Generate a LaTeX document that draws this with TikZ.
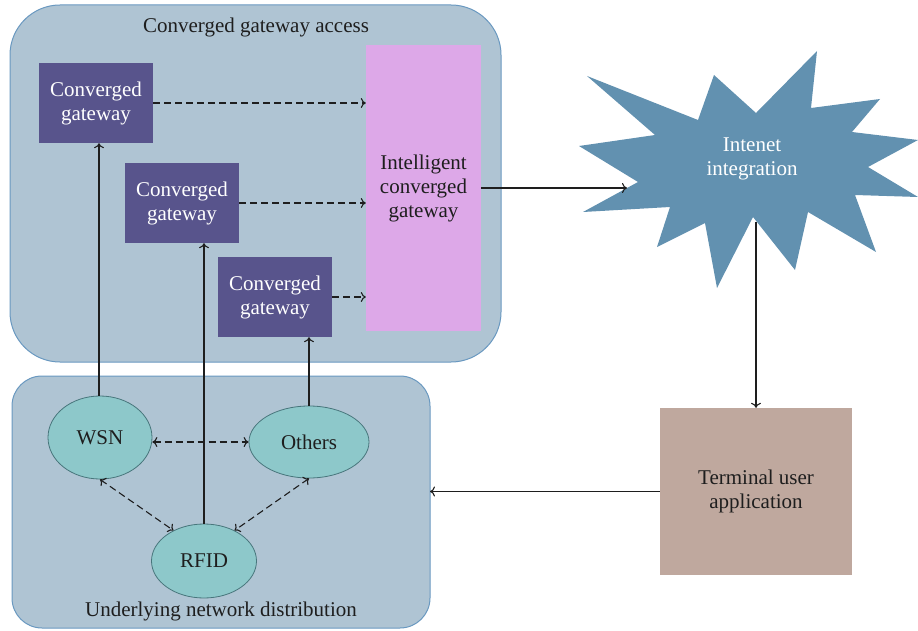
\documentclass[tikz,border=0pt]{standalone}
\usepackage{fontspec}
\setmainfont{Liberation Serif}
\usetikzlibrary{shapes.geometric,arrows.meta}
\definecolor{panelfill}{RGB}{175,196,211}
\definecolor{paneldraw}{RGB}{105,152,192}
\definecolor{gwfill}{RGB}{88,84,140}
\definecolor{intelfill}{RGB}{221,168,232}
\definecolor{starfill}{RGB}{98,145,176}
\definecolor{netfill}{RGB}{141,200,202}
\definecolor{netdraw}{RGB}{72,118,124}
\definecolor{termfill}{RGB}{191,168,158}
\definecolor{inkdark}{RGB}{30,30,30}
\tikzset{
  panel/.style={draw=paneldraw, fill=panelfill, line width=1pt},
  gwbox/.style={fill=gwfill, text=white, minimum width=114pt, minimum height=80pt,
    inner sep=0pt, align=center, font=\fontsize{21}{24}\selectfont},
  netnode/.style={ellipse, draw=netdraw, fill=netfill, line width=0.8pt, inner sep=0pt,
    text=inkdark, font=\fontsize{21}{24}\selectfont},
  lbl/.style={text=inkdark, align=center, font=\fontsize{21}{24}\selectfont},
  flow/.style={-{To[length=5pt,width=10pt]}, line width=1.1pt, draw=inkdark},
  dflow/.style={flow, dash pattern=on 7pt off 4pt},
  ddflow/.style={{To[length=5pt,width=10pt]}-{To[length=5pt,width=10pt]}, line width=1.1pt,
    draw=inkdark, dash pattern=on 7pt off 4pt},
}
\begin{document}
\begin{tikzpicture}[x=1pt,y=-1pt]
\useasboundingbox (0,0) rectangle (918,631);

% panels
\draw[panel, rounded corners=50pt] (10,5) rectangle (501,362);
\draw[panel, rounded corners=30pt] (12,376) rectangle (430,628);
\node[lbl] (toptitle) at (256,27) {Converged gateway access};
\node[lbl] (bottitle) at (221,611) {Underlying network distribution};

% gateways
\node[gwbox] (g1) at (96,103) {Converged\\gateway};
\node[gwbox] (g2) at (182,203) {Converged\\gateway};
\node[gwbox] (g3) at (275,297) {Converged\\gateway};
\node[lbl, fill=intelfill, minimum width=115pt, minimum height=286pt, inner sep=0pt]
  (intel) at (423.5,188) {Intelligent\\converged\\gateway};

% star
\fill[starfill] (587,76) -- (698,120) -- (714,75) -- (756,113) -- (817,51) -- (811,108)
  -- (880,99) -- (852,132) -- (918,140) -- (868,167) -- (918,197) -- (855,195)
  -- (876,252) -- (808,212) -- (795,270) -- (753,217) -- (717,288) -- (705,223)
  -- (657,247) -- (670,207) -- (583,212) -- (638,182) -- (579,146) -- (655,135) -- cycle;
\node[lbl, text=white] (inet) at (752,159) {Intenet\\integration};
\coordinate (starin) at (627,188);
\coordinate (starout) at (756,222);

% terminal
\node[lbl, fill=termfill, minimum width=192pt, minimum height=167pt, inner sep=0pt]
  (term) at (756,491.5) {Terminal user\\application};

% networks
\node[netnode, minimum width=104pt, minimum height=83pt] (wsn) at (100,437.5) {WSN};
\node[netnode, minimum width=120pt, minimum height=72pt] (oth) at (309,442) {Others};
\node[netnode, minimum width=105pt, minimum height=74pt] (rfid) at (204,561) {RFID};

% connectors
\draw[flow] (wsn.north -| 99,0) -- (g1.south -| 99,0);
\draw[flow] (rfid.north) -- (rfid.north |- g2.south);
\draw[flow] (oth.north) -- (oth.north |- g3.south);
\draw[dflow] (g1.east) -- (g1.east -| intel.west);
\draw[dflow] (g2.east) -- (g2.east -| intel.west);
\draw[dflow] (g3.east) -- (g3.east -| intel.west);
\draw[flow] (intel.east) -- (starin);
\draw[flow] (starout) -- (term.north);
\draw[flow] (term.west) -- (term.west -| 430,0);
\draw[ddflow] (wsn.east |- oth.west) -- (oth.west);
\draw[ddflow] (wsn.south) -- (rfid.135);
\draw[ddflow] (oth.south) -- (rfid.45);
\end{tikzpicture}
\end{document}
